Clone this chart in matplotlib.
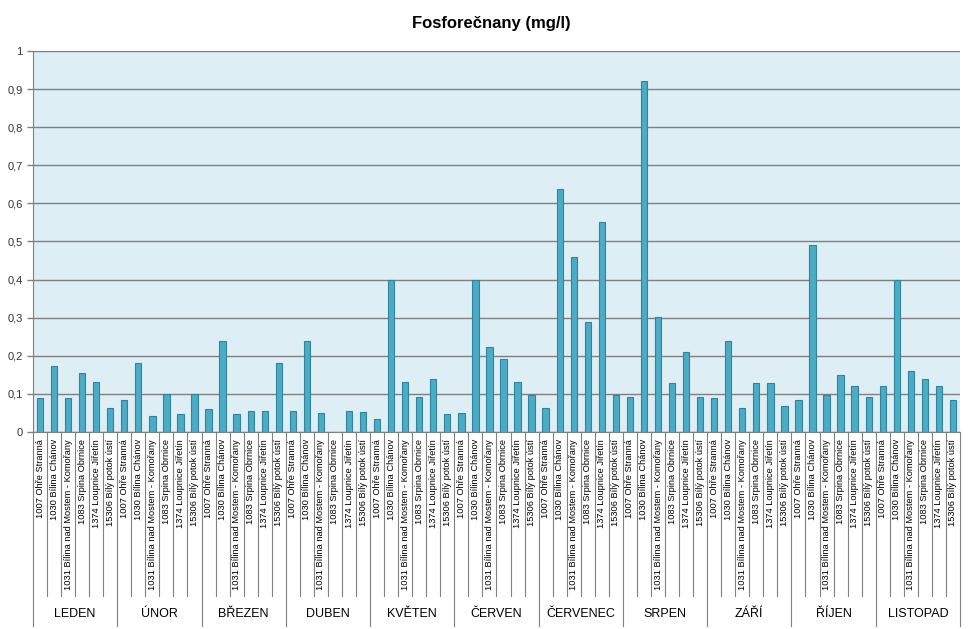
import numpy as np
import matplotlib.pyplot as plt
from matplotlib.ticker import FuncFormatter

# data - fosforecnany (mg/l), 6 profilu x 11 mesicu
mesice = ['LEDEN', 'ÚNOR', 'BŘEZEN', 'DUBEN', 'KVĚTEN', 'ČERVEN',
          'ČERVENEC', 'SRPEN', 'ZÁŘÍ', 'ŘÍJEN', 'LISTOPAD']
stanice = ['1007 Ohře Stranná', '1030 Bílina Chánov',
           '1031 Bílina nad Mostem - Komořany', '1083 Srpina Obrnice',
           '1374 Loupnice Jiřetín', '15306 Bílý potok ústí']

leden = [0.090, 0.172, 0.090, 0.155, 0.130, 0.064]
unor = [0.085, 0.182, 0.043, 0.099, 0.046, 0.099]
brezen = [0.060, 0.238, 0.046, 0.055, 0.054, 0.182]
duben = [0.054, 0.240, 0.050, 0.0, 0.056, 0.053]
kveten = [0.035, 0.400, 0.130, 0.092, 0.140, 0.046]
cerven = [0.051, 0.400, 0.222, 0.191, 0.130, 0.096]
cervenec = [0.064, 0.639, 0.458, 0.289, 0.551, 0.096]
srpen = [0.093, 0.922, 0.302, 0.129, 0.210, 0.093]
zari = [0.090, 0.239, 0.064, 0.129, 0.129, 0.067]
rijen = [0.085, 0.490, 0.096, 0.150, 0.122, 0.092]
listopad = [0.122, 0.400, 0.161, 0.140, 0.122, 0.085]

hodnoty = np.array([leden, unor, brezen, duben, kveten, cerven,
                    cervenec, srpen, zari, rijen, listopad]).ravel()
popisky = stanice * len(mesice)
n_st = len(stanice)
x = np.arange(len(hodnoty))

plt.rcParams['font.family'] = ['Liberation Sans', 'DejaVu Sans']

fig = plt.figure(figsize=(9.76, 6.29), dpi=100)
ax = fig.add_axes([0.0338, 0.3132, 0.9498, 0.6058])
ax.set_facecolor('#ddeef5')

ax.bar(x, hodnoty, width=0.45, color='#4bacc6', edgecolor='#31849b',
       linewidth=0.8, zorder=3)

ax.set_ylim(0, 1)
ax.set_xlim(-0.5, len(x) - 0.5)
ax.set_yticks(np.arange(0, 1.01, 0.1))
ax.yaxis.set_major_formatter(FuncFormatter(lambda v, p: f'{v:.1f}'.replace('.', ',').replace(',0', '')))
ax.grid(axis='y', color='#808080', linewidth=1, zorder=1)
ax.tick_params(axis='y', labelsize=8, colors='#808080', labelcolor='#333333', length=4, width=1)

ax.set_xticks(x)
ax.set_xticklabels(popisky, rotation=90, fontsize=6.7)
ax.tick_params(axis='x', length=0, pad=5)

for s in ['top', 'right']:
    ax.spines[s].set_visible(False)
ax.spines['left'].set_color('#808080')
ax.spines['bottom'].set_color('#808080')

# svisle oddelovace pod osou
tr = ax.get_xaxis_transform()
for i in range(len(x) + 1):
    dolu = -0.51 if i % n_st == 0 else -0.43
    ax.plot([i - 0.5, i - 0.5], [0, dolu], color='#808080', lw=0.8,
            transform=tr, clip_on=False)
for k, m in enumerate(mesice):
    ax.text(k * n_st + (n_st - 1) / 2, -0.478, m, transform=tr,
            ha='center', va='center', fontsize=9)

fig.text(0.503, 0.963, 'Fosforečnany (mg/l)', ha='center', va='center',
         fontsize=12, fontweight='bold')

plt.savefig('out.png', dpi=100)
